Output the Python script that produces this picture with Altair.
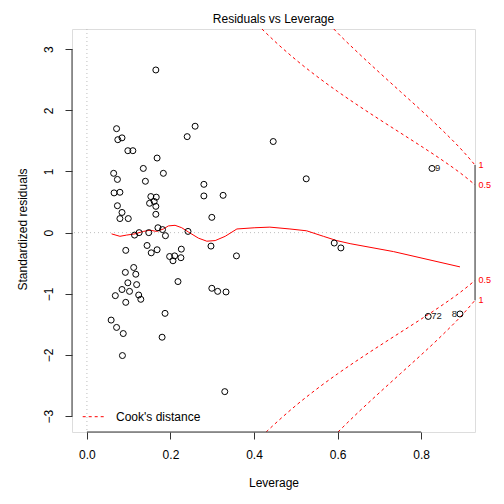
import altair as alt
import pandas as pd

# ---- data ----
leverage = [0.165, 0.071, 0.074, 0.084, 0.098, 0.110, 0.259, 0.240, 0.446, 0.168,
            0.135, 0.183, 0.064, 0.073, 0.140, 0.280, 0.065, 0.079, 0.280, 0.326,
            0.153, 0.166, 0.150, 0.161, 0.165, 0.073, 0.084, 0.079, 0.099, 0.165,
            0.299, 0.170, 0.114, 0.125, 0.148, 0.188, 0.242, 0.144, 0.154, 0.168,
            0.093, 0.198, 0.210, 0.206, 0.225, 0.226, 0.297, 0.358, 0.112, 0.092,
            0.117, 0.098, 0.119, 0.218, 0.084, 0.102, 0.068, 0.124, 0.129, 0.093,
            0.299, 0.313, 0.333, 0.187, 0.058, 0.071, 0.087, 0.180, 0.085, 0.330,
            0.525, 0.826, 0.592, 0.608, 0.817, 0.893, 0.181]
std_resid = [2.66, 1.70, 1.52, 1.55, 1.34, 1.34, 1.74, 1.57, 1.49, 1.22,
             1.05, 0.97, 0.97, 0.87, 0.84, 0.79, 0.65, 0.66, 0.60, 0.61,
             0.59, 0.58, 0.48, 0.51, 0.43, 0.44, 0.33, 0.23, 0.23, 0.30,
             0.25, 0.08, -0.04, 0.00, 0.00, -0.05, 0.02, -0.21, -0.33, -0.28,
             -0.29, -0.39, -0.38, -0.46, -0.41, -0.27, -0.22, -0.38, -0.57, -0.65,
             -0.68, -0.82, -0.85, -0.80, -0.93, -0.96, -1.03, -1.02, -1.09, -1.14,
             -0.91, -0.96, -0.97, -1.32, -1.43, -1.55, -1.65, -1.71, -2.01, -2.60,
             0.88, 1.05, -0.17, -0.25, -1.37, -1.33, 0.05]

id_right_lev = [0.826, 0.817]
id_right_res = [1.05, -1.37]
id_right_lab = ["9", "72"]
id_left_lev = [0.893]
id_left_res = [-1.33]
id_left_lab = ["8"]

smooth_lev = [0.059, 0.079, 0.095, 0.115, 0.135, 0.151, 0.167, 0.183, 0.195, 0.211,
              0.227, 0.243, 0.267, 0.287, 0.307, 0.331, 0.359, 0.402, 0.438, 0.486,
              0.526, 0.566, 0.598, 0.630, 0.734, 0.893]
smooth_res = [-0.02, -0.06, -0.04, -0.02, 0.02, 0.04, 0.02, 0.06, 0.11, 0.12,
              0.08, 0.01, -0.09, -0.14, -0.13, -0.06, 0.06, 0.08, 0.09, 0.06,
              0.03, -0.06, -0.13, -0.18, -0.31, -0.56]

# Cook's distance contours (each runs from the plot edge to the right edge)
cook05_up_lev = [0.419, 0.45, 0.50, 0.55, 0.60, 0.65, 0.70, 0.75, 0.80, 0.85, 0.90, 0.929]
cook05_up_res = [3.33, 3.127, 2.828, 2.558, 2.309, 2.076, 1.852, 1.633, 1.414, 1.188, 0.943, 0.782]
cook05_dn_lev = [0.429, 0.45, 0.50, 0.55, 0.60, 0.65, 0.70, 0.75, 0.80, 0.85, 0.90, 0.929]
cook05_dn_res = [-3.26, -3.127, -2.828, -2.558, -2.309, -2.076, -1.852, -1.633, -1.414, -1.188, -0.943, -0.782]
cook1_up_lev = [0.591, 0.60, 0.65, 0.70, 0.75, 0.80, 0.85, 0.90, 0.929]
cook1_up_res = [3.33, 3.266, 2.935, 2.619, 2.309, 2.000, 1.680, 1.333, 1.106]
cook1_dn_lev = [0.601, 0.65, 0.70, 0.75, 0.80, 0.85, 0.90, 0.929]
cook1_dn_res = [-3.26, -2.935, -2.619, -2.309, -2.000, -1.680, -1.333, -1.106]

cook_lab_pos = [1.106, 0.782, -0.782, -1.106]
cook_lab_txt = ["1", "0.5", "0.5", "1"]
x_max = 0.929

x_ticks = [0.0, 0.2, 0.4, 0.6, 0.8]
y_ticks = [-3, -2, -1, 0, 1, 2, 3]

# ---- tables ----
pts = pd.DataFrame({"h": leverage, "r": std_resid})
smooth = pd.DataFrame({"h": smooth_lev, "r": smooth_res})
frames = []
for name, hh, rr in [("0.5 up", cook05_up_lev, cook05_up_res),
                     ("0.5 down", cook05_dn_lev, cook05_dn_res),
                     ("1 up", cook1_up_lev, cook1_up_res),
                     ("1 down", cook1_dn_lev, cook1_dn_res)]:
    frames.append(pd.DataFrame({"h": hh, "r": rr, "s": name}))
cook = pd.concat(frames, ignore_index=True)
cook_labels = pd.DataFrame({"h": [x_max] * 4, "r": cook_lab_pos, "t": cook_lab_txt})
idr = pd.DataFrame({"h": id_right_lev, "r": id_right_res, "t": id_right_lab})
idl = pd.DataFrame({"h": id_left_lev, "r": id_left_res, "t": id_left_lab})

FONT = "Liberation Sans"
RED = "#FF0000"
xs = alt.Scale(domain=[-0.0357, x_max], nice=False, zero=False)
ys = alt.Scale(domain=[-3.26, 3.33], nice=False, zero=False)

xaxis = alt.Axis(values=x_ticks, format=".1f", grid=False, domain=False,
                 tickSize=7, tickColor="#333", tickWidth=1,
                 labelFontSize=12, labelFont=FONT, labelColor="#000",
                 labelBaseline="alphabetic", labelPadding=19,
                 title="Leverage", titleFont=FONT, titleFontSize=12,
                 titleFontWeight="normal", titleColor="#000",
                 titleBaseline="alphabetic", titleY=54.7, titleX=201.5,
                 titleAlign="center")
yaxis = alt.Axis(values=y_ticks, format="d", grid=False, domain=False,
                 tickSize=7, tickColor="#333", tickWidth=1,
                 labelFontSize=12, labelFont=FONT, labelColor="#000",
                 labelAngle=270, labelAlign="center", labelBaseline="alphabetic",
                 labelPadding=13,
                 title="Standardized residuals", titleFont=FONT, titleFontSize=12,
                 titleFontWeight="normal", titleColor="#000",
                 titleAngle=270, titleBaseline="alphabetic", titleAlign="center",
                 titleX=-46, titleY=200)


def X(f="h"):
    return alt.X(f, type="quantitative", scale=xs, axis=xaxis)


def Y(f="r"):
    return alt.Y(f, type="quantitative", scale=ys, axis=yaxis)


hline = alt.Chart(pd.DataFrame({"r": [0]})).mark_rule(
    color="#BEBEBE", strokeDash=[1, 3], strokeWidth=1).encode(y=Y())
vline = alt.Chart(pd.DataFrame({"h": [0]})).mark_rule(
    color="#BEBEBE", strokeDash=[1, 3], strokeWidth=1).encode(x=X())

cook_lines = alt.Chart(cook).mark_line(
    color=RED, strokeDash=[3, 3], strokeWidth=1, clip=True,
    interpolate="monotone").encode(x=X(), y=Y(), detail="s:N", order="h:Q")

smooth_line = alt.Chart(smooth).mark_line(
    color=RED, strokeWidth=1, clip=True).encode(x=X(), y=Y(), order="h:Q")

points = alt.Chart(pts).mark_point(
    shape="circle", filled=False, size=36, color="#000", opacity=1,
    strokeWidth=1).encode(x=X(), y=Y())

lab_r = alt.Chart(idr).mark_text(
    align="left", baseline="middle", dx=3, fontSize=9.5, font=FONT,
    color="#222").encode(x=X(), y=Y(), text="t:N")
lab_l = alt.Chart(idl).mark_text(
    align="right", baseline="middle", dx=-3, fontSize=9.5, font=FONT,
    color="#222").encode(x=X(), y=Y(), text="t:N")

cook_txt = alt.Chart(cook_labels).mark_text(
    align="left", baseline="middle", dx=3.6, fontSize=9, font=FONT,
    color=RED).encode(x=X(), y=Y(), text="t:N")

# R-style axis lines spanning the tick range
ax_x = alt.Chart(pd.DataFrame({"h": [x_ticks[0]], "h2": [x_ticks[-1]]})).mark_rule(
    color="#333", strokeWidth=1).encode(x=X(), x2="h2:Q", y=alt.value(403))
ax_y = alt.Chart(pd.DataFrame({"r": [y_ticks[0]], "r2": [y_ticks[-1]]})).mark_rule(
    color="#333", strokeWidth=1).encode(y=Y(), y2="r2:Q", x=alt.value(0))
ax_r = alt.Chart(pd.DataFrame({"r": [cook_lab_pos[-1]], "r2": [cook_lab_pos[0]]})).mark_rule(
    color="#333", strokeWidth=1).encode(y=Y(), y2="r2:Q", x=alt.value(403))

# legend (bottom-left, no box)
leg_line = alt.Chart(pd.DataFrame({"k": [1]})).mark_rule(
    color=RED, strokeDash=[3, 3], strokeWidth=1).encode(
    x=alt.value(10.7), x2=alt.value(32.3), y=alt.value(387.7))
leg_text = alt.Chart(pd.DataFrame({"t": ["Cook's distance"]})).mark_text(
    align="left", baseline="middle", fontSize=12, font=FONT, color="#000").encode(
    x=alt.value(44), y=alt.value(387.7), text="t:N")

chart = alt.layer(
    hline, vline, cook_lines, smooth_line, points, lab_r, lab_l, cook_txt,
    ax_x, ax_y, ax_r, leg_line, leg_text
).properties(
    width=403, height=403,
    autosize=alt.AutoSizeParams(type="none"),
    padding={"left": 64, "top": 21, "right": 21, "bottom": 64},
    title=alt.TitleParams("Residuals vs Leverage", font=FONT, fontSize=12,
                          fontWeight="normal", color="#000", anchor="middle",
                          baseline="alphabetic", offset=8, dy=14),
).configure_view(
    stroke="#7f7f7f", strokeWidth=1
).configure(background="white")

chart.save("out.html", embed_options={"renderer": "svg", "actions": False})
